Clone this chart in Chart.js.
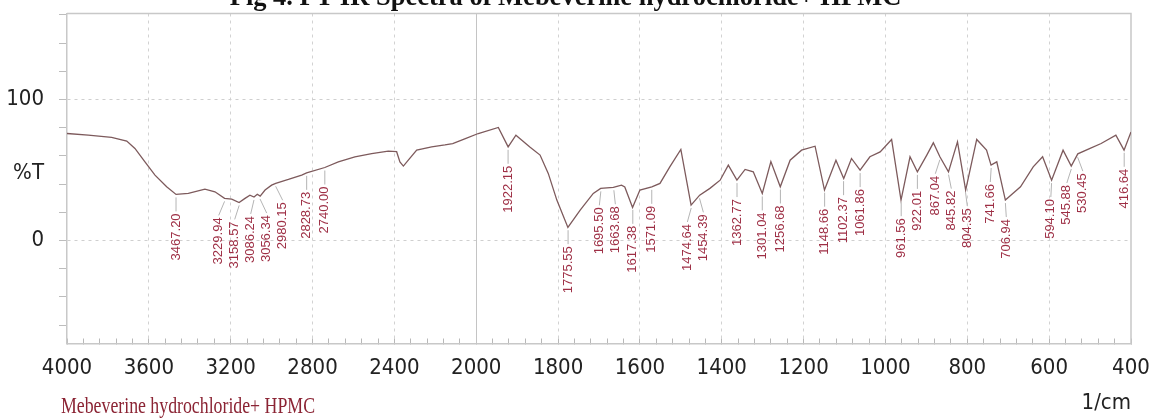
<!DOCTYPE html>
<html>
<head>
<meta charset="utf-8">
<script src="https://cdn.jsdelivr.net/npm/chart.js@4.4.1/dist/chart.umd.min.js"></script>
<style>
  body { margin: 0; background: #fff; }
  canvas { display: block; }
</style>
</head>
<body>
<canvas id="irChart" width="1152" height="420"></canvas>
<script>
// spectrum (wavenumber in 1/cm, transmittance in %T)
var WAVENUMBER = [4000, 3896, 3782, 3708, 3668, 3619, 3570, 3513, 3467, 3407, 3326, 3277,
  3230, 3195, 3159, 3130, 3106, 3086, 3070, 3056, 3032, 3000, 2980, 2918, 2853, 2829,
  2740, 2674, 2593, 2511, 2430, 2389, 2373, 2356, 2332, 2291, 2218, 2153, 2115, 2050,
  1995, 1946, 1922, 1903, 1869, 1844, 1824, 1803, 1776, 1746, 1714, 1696, 1665, 1645,
  1637, 1618, 1600, 1571, 1551, 1527, 1500, 1475, 1454, 1429, 1404, 1384, 1363, 1343,
  1323, 1301, 1280, 1257, 1233, 1205, 1172, 1149, 1121, 1102, 1083, 1062, 1038, 1013,
  985, 962, 940, 922, 899, 883, 867, 846, 824, 804, 777, 753, 742, 728, 707, 670, 639,
  616, 594, 566, 546, 530, 500, 473, 437, 417, 400];
var TRANSMITTANCE = [75.9, 74.7, 73.1, 70.5, 65.3, 55.8, 46.4, 38.1, 32.7, 33.4, 36.5, 34.6,
  29.9, 29.4, 27.0, 29.9, 32.2, 30.9, 32.8, 31.5, 35.8, 39.3, 40.6, 43.3, 46.4, 48.0,
  51.8, 55.8, 59.4, 61.7, 63.4, 63.0, 55.8, 52.8, 57.0, 64.1, 66.4, 67.8, 68.8, 72.4,
  75.9, 80.2, 66.4, 74.7, 66.4, 60.6, 47.6, 28.7, 9.3, 21.6, 33.4, 37.0, 37.7, 39.3,
  38.0, 23.5, 35.8, 38.1, 40.5, 52.3, 64.6, 25.1, 32.2, 37.0, 42.8, 53.5, 42.8, 50.4,
  48.7, 33.4, 56.0, 38.1, 57.0, 64.1, 66.9, 35.8, 57.0, 44.0, 58.2, 49.9, 59.4, 62.9,
  71.7, 28.7, 59.4, 48.7, 60.6, 69.3, 59.4, 48.7, 70.0, 35.8, 71.7, 64.1, 53.5, 55.8,
  28.7, 38.1, 52.3, 59.4, 42.8, 64.1, 52.8, 61.5, 65.3, 68.8, 74.7, 64.1, 77.0];
var PEAKS = [3467.20, 3229.94, 3158.57, 3086.24, 3056.34, 2980.15, 2828.73, 2740.00,
  1922.15, 1775.55, 1695.50, 1663.68, 1617.38, 1571.09, 1474.64, 1454.39, 1362.77,
  1301.04, 1256.68, 1148.66, 1102.37, 1061.86, 961.56, 922.01, 867.04, 845.82, 804.35,
  741.66, 706.94, 594.10, 545.88, 530.45, 416.64];
var X_TICKS = [4000, 3600, 3200, 2800, 2400, 2000, 1800, 1600, 1400, 1200, 1000, 800, 600, 400];
var X_BREAK = 2000; // below 2000 the scale is doubled
var Y_TICKS = [-60, -40, -20, 0, 20, 40, 48, 60, 80, 100, 120, 140, 160];
var Y_LABELS = { 100: '100', 48: '%T', 0: '0' };

var TITLE = 'Fig 4. FT-IR Spectra of Mebeverine hydrochloride+ HPMC';
var SAMPLE = 'Mebeverine hydrochloride+ HPMC';

var AXIS_FONT = { family: "'DejaVu Sans Condensed', 'Liberation Sans Narrow', sans-serif", size: 22 };

// spectrometer x axis: 4000-2000 at half the scale of 2000-400
class WavenumberScale extends Chart.LinearScale {
  static id = 'wavenumber';
  static defaults = {};
  buildTicks() {
    var ticks = [];
    for (var i = 0; i < X_TICKS.length; i++) {
      ticks.push({ value: X_TICKS[i], major: true });
      if (i < X_TICKS.length - 1) {
        var step = (X_TICKS[i] - X_TICKS[i + 1]) / 5;
        for (var k = 1; k < 5; k++) ticks.push({ value: X_TICKS[i] - k * step, major: false });
      }
    }
    return ticks;
  }
  _decimal(v) {
    var a = this.max - X_BREAK, b = (X_BREAK - this.min) * 2;
    var u = v >= X_BREAK ? this.max - v : a + (X_BREAK - v) * 2;
    return u / (a + b);
  }
  getPixelForValue(v) {
    if (v === null || v === undefined) return NaN;
    return this.getPixelForDecimal(this._decimal(v));
  }
  getValueForPixel(p) {
    var a = this.max - X_BREAK, b = (X_BREAK - this.min) * 2;
    var u = this.getDecimalForPixel(p) * (a + b);
    return u <= a ? this.max - u : X_BREAK - (u - a) / 2;
  }
}
Chart.register(WavenumberScale);

function curveY(chart, wn) {
  var xs = chart.scales.x, ys = chart.scales.y;
  for (var i = 0; i < WAVENUMBER.length - 1; i++) {
    var a = WAVENUMBER[i], b = WAVENUMBER[i + 1];
    if (wn <= a && wn >= b) {
      var pa = xs.getPixelForValue(a), pb = xs.getPixelForValue(b), p = xs.getPixelForValue(wn);
      var t = pb === pa ? 0 : (p - pa) / (pb - pa);
      return ys.getPixelForValue(TRANSMITTANCE[i]) * (1 - t) + ys.getPixelForValue(TRANSMITTANCE[i + 1]) * t;
    }
  }
  return ys.getPixelForValue(TRANSMITTANCE[TRANSMITTANCE.length - 1]);
}

// push crowded labels apart, keeping each group centred on its peaks
function spreadLabels(xs, gap) {
  var groups = xs.map(function (x, i) { return { idx: [i], center: x }; });
  var merged = true;
  while (merged) {
    merged = false;
    for (var g = 0; g < groups.length - 1; g++) {
      var A = groups[g], B = groups[g + 1];
      var aRight = A.center + (A.idx.length - 1) * gap / 2;
      var bLeft = B.center - (B.idx.length - 1) * gap / 2;
      if (bLeft - aRight < gap) {
        var idx = A.idx.concat(B.idx);
        var c = idx.reduce(function (s, i) { return s + xs[i]; }, 0) / idx.length;
        groups.splice(g, 2, { idx: idx, center: c });
        merged = true;
        break;
      }
    }
  }
  var out = [];
  groups.forEach(function (G) {
    G.idx.forEach(function (i, k) { out[i] = G.center + (k - (G.idx.length - 1) / 2) * gap; });
  });
  return out;
}

var decorations = {
  id: 'decorations',
  beforeDatasetsDraw: function (chart) {
    var ctx = chart.ctx, area = chart.chartArea;
    var x2000 = Math.round(chart.scales.x.getPixelForValue(X_BREAK)) + 0.5;
    ctx.save();
    ctx.strokeStyle = '#c4c4c4';
    ctx.lineWidth = 1;
    ctx.beginPath();
    ctx.moveTo(x2000, area.top);
    ctx.lineTo(x2000, area.bottom);
    ctx.stroke();
    // top and right edges of the frame
    ctx.strokeStyle = '#c8c8c8';
    ctx.lineWidth = 1.5;
    ctx.beginPath();
    ctx.moveTo(area.left, area.top);
    ctx.lineTo(area.right, area.top);
    ctx.lineTo(area.right, area.bottom);
    ctx.stroke();
    ctx.restore();
  },
  afterDatasetsDraw: function (chart) {
    var ctx = chart.ctx, xs = chart.scales.x;
    var px = PEAKS.map(function (p) { return xs.getPixelForValue(p); });
    var lx = spreadLabels(px, 16);
    ctx.save();
    PEAKS.forEach(function (p, i) {
      var cy = curveY(chart, p);
      var top = cy + 19;
      ctx.strokeStyle = '#b4b4b4';
      ctx.lineWidth = 1;
      ctx.beginPath();
      ctx.moveTo(px[i], cy + 3);
      ctx.lineTo(lx[i], top - 2);
      ctx.stroke();
      ctx.save();
      ctx.translate(lx[i], top);
      ctx.rotate(-Math.PI / 2);
      ctx.fillStyle = '#9e2f45';
      ctx.font = "13px 'Liberation Sans', Arial, sans-serif";
      ctx.textAlign = 'right';
      ctx.textBaseline = 'middle';
      ctx.fillText(p.toFixed(2), 0, 0);
      ctx.restore();
    });
    ctx.fillStyle = '#8b2434';
    ctx.font = "24px 'Liberation Serif', 'Times New Roman', serif";
    ctx.textAlign = 'left';
    ctx.textBaseline = 'alphabetic';
    ctx.fillText(SAMPLE, 61, 413, 254);
    ctx.restore();
  }
};

var points = WAVENUMBER.map(function (w, i) { return { x: w, y: TRANSMITTANCE[i] }; });

new Chart(document.getElementById('irChart'), {
  type: 'line',
  data: {
    datasets: [{
      label: SAMPLE,
      data: points,
      borderColor: '#7d5a5c',
      borderWidth: 1.3,
      pointRadius: 0,
      tension: 0
    }]
  },
  options: {
    responsive: false,
    animation: false,
    layout: { padding: { left: 0, right: 21, top: 0, bottom: 0 } },
    plugins: {
      legend: { display: false },
      tooltip: { enabled: false },
      title: {
        display: true,
        text: TITLE,
        color: '#111',
        font: { family: "'Liberation Serif', 'Times New Roman', serif", size: 26.5, weight: 'bold' },
        padding: { top: -17.5, bottom: -0.8 }
      }
    },
    scales: {
      x: {
        type: 'wavenumber',
        min: 400,
        max: 4000,
        afterFit: function (s) { s.height = 76.5; s.paddingLeft = 0; s.paddingRight = 0; },
        grid: {
          color: function (c) {
            var v = c.tick && c.tick.value;
            return c.tick && c.tick.major && v !== X_BREAK && v !== 4000 && v !== 400 ? '#d2d2d2' : 'rgba(0,0,0,0)';
          },
          tickColor: '#b8b8b8',
          tickLength: -5
        },
        border: { color: '#c8c8c8', width: 1.5, dash: [3, 4] },
        ticks: {
          autoSkip: false,
          maxRotation: 0,
          minRotation: 0,
          padding: 17,
          color: '#222',
          font: AXIS_FONT,
          callback: function (v, i, ticks) { return ticks[i].major ? String(v) : ''; }
        },
        title: { display: true, text: '1/cm', align: 'end', color: '#222', font: AXIS_FONT, padding: { top: 0, bottom: 4 } }
      },
      y: {
        min: -73,
        max: 161,
        afterBuildTicks: function (s) { s.ticks = Y_TICKS.map(function (v) { return { value: v }; }); },
        afterFit: function (s) { s.width = 67; s.paddingTop = 0; s.paddingBottom = 0; },
        grid: {
          color: function (c) {
            return c.tick && (c.tick.value === 0 || c.tick.value === 100) ? '#cfcfcf' : 'rgba(0,0,0,0)';
          },
          tickColor: function (c) { return c.tick && c.tick.value === 48 ? 'rgba(0,0,0,0)' : '#bdbdbd'; },
          tickLength: 8
        },
        border: { color: '#c8c8c8', width: 1.5, dash: [3, 4] },
        ticks: {
          autoSkip: false,
          padding: 15,
          color: '#222',
          font: AXIS_FONT,
          callback: function (v) { return Y_LABELS[v] !== undefined ? Y_LABELS[v] : ''; }
        }
      }
    }
  },
  plugins: [decorations]
});
</script>
</body>
</html>
